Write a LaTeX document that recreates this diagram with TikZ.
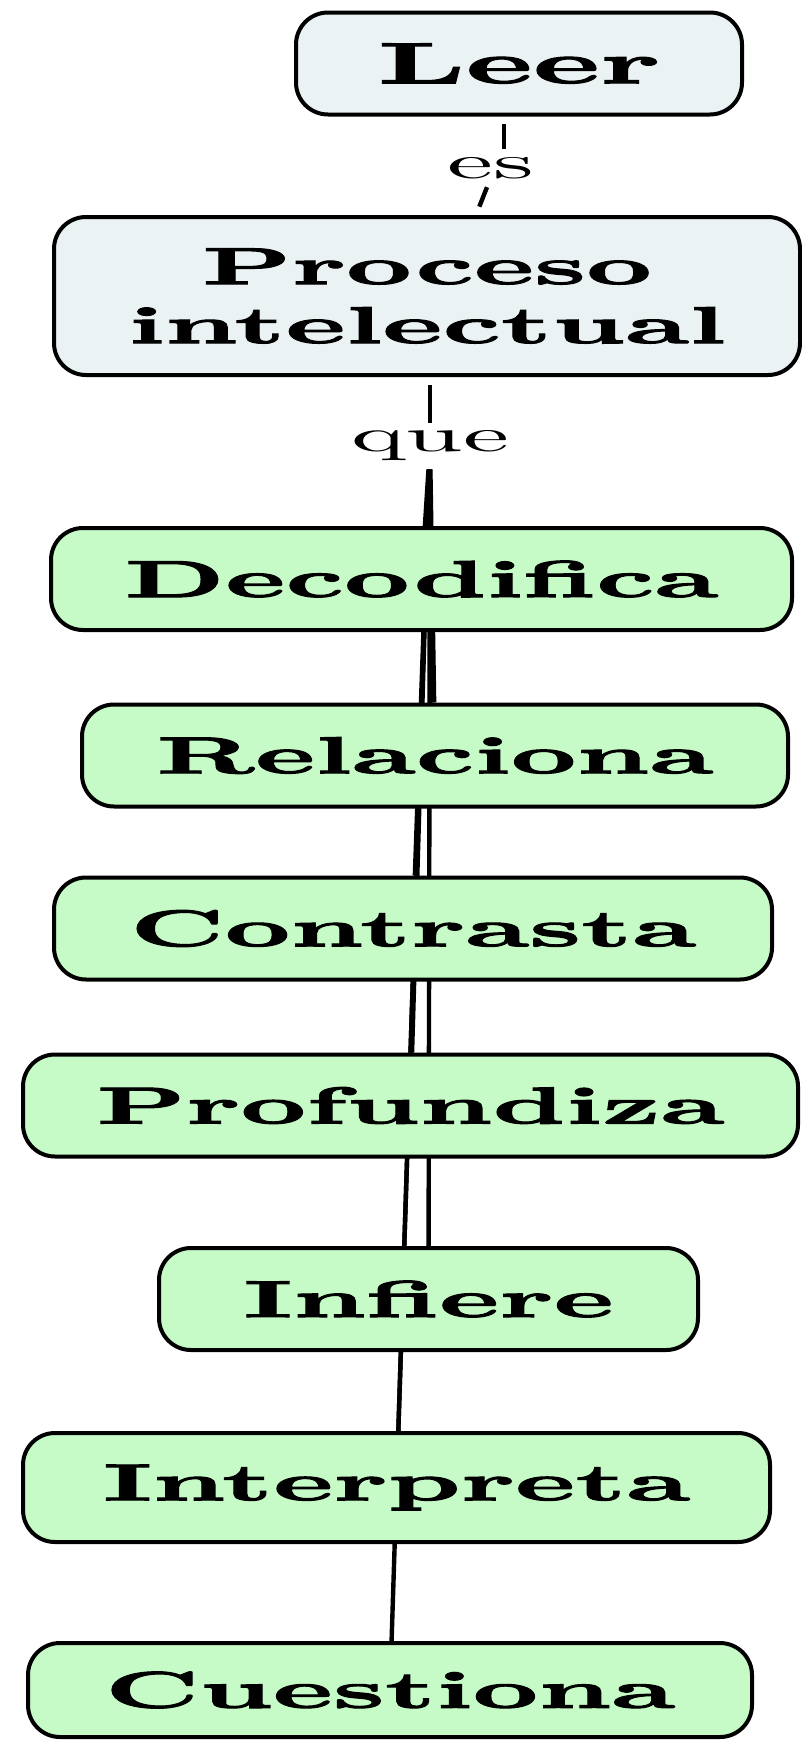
\documentclass[tikz,border=0pt]{standalone}
\usepackage{fontspec}
\usetikzlibrary{backgrounds}
\newfontfamily\ancha{lmroman10}[Extension=.otf, UprightFont=*-regular, BoldFont=*-bold, FakeStretch=2.2, BoldFeatures={FakeBold=2}]
\definecolor{grisazul}{RGB}{234,242,244}
\definecolor{verdeclaro}{RGB}{198,250,198}
\begin{document}
\begin{tikzpicture}[x=0.5pt, y=-0.5pt,
		caja/.style={draw, line width=2pt, rounded corners=16pt, minimum height=51pt, inner sep=0pt, font=\ancha\bfseries\fontsize{26}{29.5}\selectfont},
		gris/.style={caja, fill=grisazul},
		verde/.style={caja, fill=verdeclaro},
		rotulo/.style={font=\ancha\fontsize{23.5}{26}\selectfont, inner sep=4pt},
		enlace/.style={line width=2.2pt}]
		\useasboundingbox (0,0) rectangle (802,1740);
		% conceptos
		\node[gris, minimum width=223pt, font=\ancha\bfseries\fontsize{29}{32}\selectfont] (leer) at (519,63.5) {Leer};
		\node[gris, minimum width=373pt, minimum height=79pt, align=center] (proceso) at (427,296) {Proceso\\intelectual};
		\node[rotulo] (es) at (491,168) {es};
		\node[rotulo] (que) at (430,446) {que};
		\node[verde, minimum width=370.5pt] (decodifica) at (421.5,579) {Decodifica};
		\node[verde, minimum width=353pt] (relaciona) at (435,755.5) {Relaciona};
		\node[verde, minimum width=359pt] (contrasta) at (413,928.5) {Contrasta};
		\node[verde, minimum width=387.5pt] (profundiza) at (410.5,1105.5) {Profundiza};
		\node[verde, minimum width=269.5pt] (infiere) at (428.5,1299) {Infiere};
		\node[verde, minimum width=373.5pt, minimum height=54.5pt] (interpreta) at (396.5,1487.5) {Interpreta};
		\node[verde, minimum width=362pt, minimum height=47pt] (cuestiona) at (390,1690) {Cuestiona};
		% enlaces
		\begin{scope}[on background layer]
			\draw[enlace, shorten <=3.5pt] ([xshift=-7.5pt]leer.south) -- ([xshift=6.5pt]es.north);
			\draw[enlace, shorten >=4.5pt] ([xshift=-2pt]es.south) -- ([xshift=24.5pt]proceso.north);
			\draw[enlace, shorten <=4pt] ([xshift=1.5pt]proceso.south) -- (que.north);
			\foreach \hijo in {decodifica,relaciona,contrasta,profundiza,infiere,interpreta,cuestiona}
				\draw[enlace] (que) -- (\hijo);
		\end{scope}
\end{tikzpicture}
\end{document}
